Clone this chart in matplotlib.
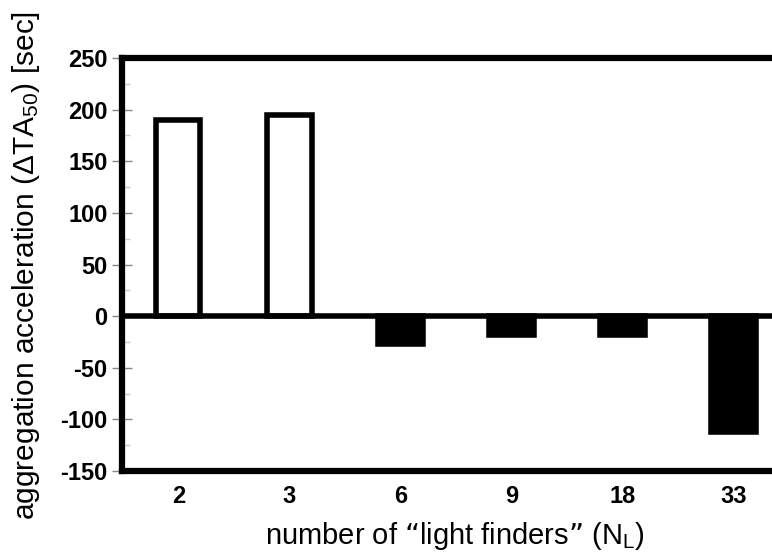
import matplotlib
matplotlib.use("Agg")
import matplotlib.pyplot as plt
from matplotlib.ticker import MultipleLocator

plt.rcParams['font.family'] = ['Liberation Sans', 'DejaVu Sans']
plt.rcParams['mathtext.default'] = 'regular'
plt.rcParams['axes.unicode_minus'] = False

# number of "light finders" and the resulting change in aggregation time
categories = ['2', '3', '6', '9', '18', '33']
delta_ta50 = [190, 195, -27, -18, -18, -112]

fig = plt.figure(figsize=(7.72, 5.57), dpi=100)
W, H = 772, 557
left, right, top, bottom = 122, 800, 58, 471
ax = fig.add_axes([left / W, 1 - bottom / H, (right - left) / W, (bottom - top) / H])

x = list(range(len(categories)))
colors = ['white' if v > 0 else 'black' for v in delta_ta50]
ax.bar(x, delta_ta50, width=0.4, color=colors, edgecolor='black',
       linewidth=4.0, zorder=3)
ax.axhline(0, color='black', linewidth=4.0, zorder=4)

ax.set_xlim(-0.507, 5.6)
ax.set_ylim(-150, 250)
ax.yaxis.set_major_locator(MultipleLocator(50))
ax.yaxis.set_minor_locator(MultipleLocator(25))
ax.set_xticks(x)
ax.set_xticklabels(categories, fontsize=17, fontweight='bold')
ax.tick_params(axis='x', length=0, pad=10)
ax.tick_params(axis='y', which='major', direction='inout', length=15,
               width=1.0, color='#888888', labelsize=17, pad=3)
ax.tick_params(axis='y', which='minor', direction='in', length=6,
               width=1.0, color='#cccccc')
for lbl in ax.get_yticklabels():
    lbl.set_fontweight('bold')

for side in ['left', 'top', 'bottom']:
    ax.spines[side].set_linewidth(4.5)
ax.spines['right'].set_visible(False)

ax.set_xlabel('number of \u201clight finders\u201d (N$_L$)', fontsize=21)
ax.xaxis.set_label_coords((455 - left) / (right - left), -(520 - bottom) / (bottom - top))
ax.xaxis.label.set_va('top')
ax.set_ylabel('aggregation acceleration (\u0394TA$_{50}$) [sec]', fontsize=21.5)
ax.yaxis.set_label_coords(-(left - 42) / (right - left), (bottom - 265) / (bottom - top))

fig.savefig('out.png', dpi=100)
